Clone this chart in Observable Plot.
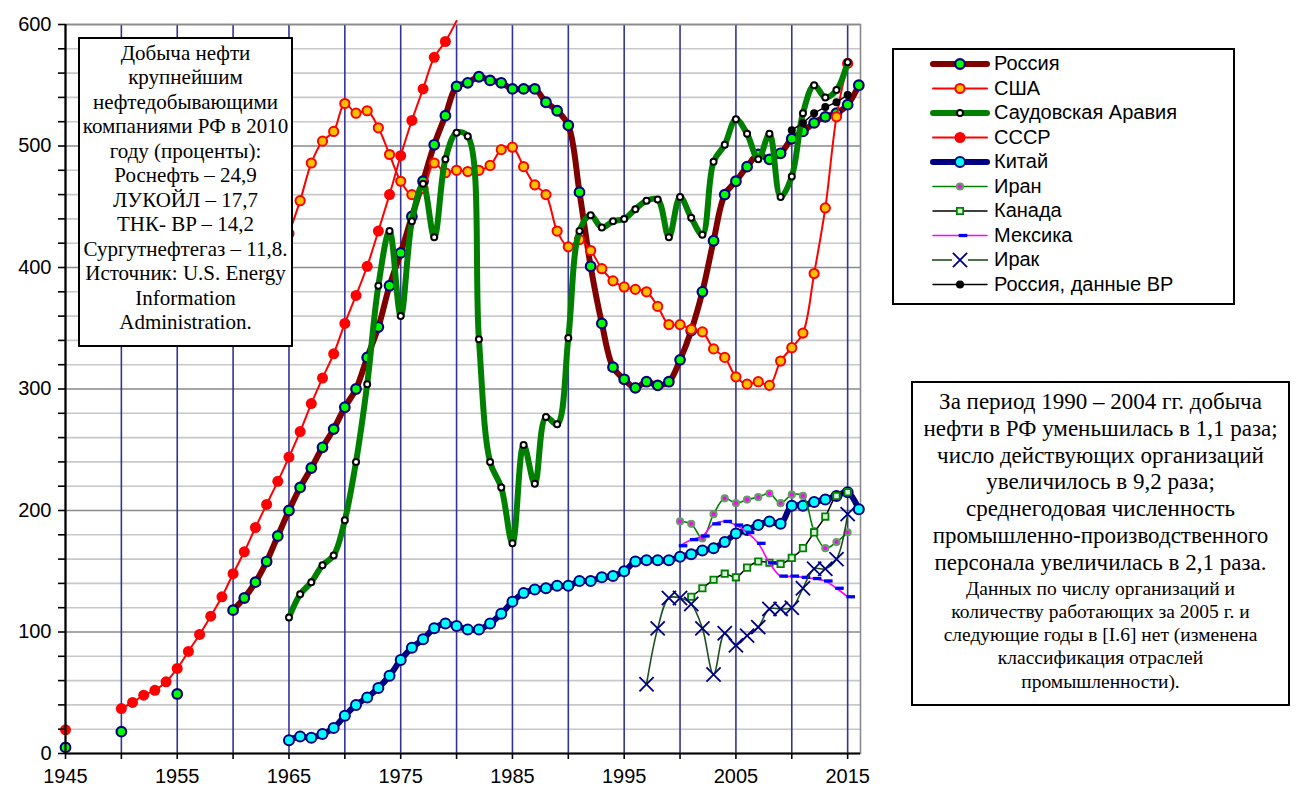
<!DOCTYPE html>
<html><head><meta charset="utf-8">
<script src="https://cdn.jsdelivr.net/npm/d3@7"></script>
<script src="https://cdn.jsdelivr.net/npm/@observablehq/plot@0.6"></script>
<style>
body{margin:0;background:#fff;}
#wrap{position:relative;width:1296px;height:788px;overflow:hidden;background:#fff;}
#chart{position:absolute;left:0;top:0;}
.box{position:absolute;background:#fff;border:2px solid #000;box-sizing:border-box;font-family:"Liberation Serif","Times New Roman",serif;color:#000;text-align:center;}
.box div{white-space:nowrap;}
#box1{left:78px;top:37px;width:215px;height:310px;padding-top:2px;font-size:21px;line-height:24.45px;}
#box2{left:911px;top:381px;width:379px;height:325px;padding-top:6px;}
#box2 .big{font-size:23px;line-height:26.8px;}
#box2 .small{font-size:19.5px;line-height:23.3px;}
#legend{position:absolute;left:0;top:0;}
</style></head>
<body><div id="wrap"><div id="chart"></div><svg id="legend" width="1296" height="788"></svg>
<div class="box" id="box1"></div>
<div class="box" id="box2"></div>
</div>
<script>
// ---------- data ----------
const russiaYears = [1945, 1950, 1955, ...d3.range(1960, 2017)];
const russiaVals = [5, 18, 49,
  118,128,141,158,179, 200,219,235,252,267, 285,300,326,351,385, 412,442,471,501,525,
  549,552,557,554,552, 547,547,547,536,529, 517,462,401,354,318, 308,301,306,303,306,
  324,348,380,422,460, 471,483,493,489,494, 506,512,519,524,527, 534,550];

const usaYears = d3.range(1965, 2016);
const usaVals = [428,455,486,504,512, 535,527,529,515,493, 471,460,465,486,478,
  480,479,480,484,497, 499,483,468,460,430, 417,423,414,399,389, 384,382,380,368,353,
  353,349,347,333,326, 310,304,306,303,323, 334,346,395,449,524, 568];

const saudiYears = d3.range(1965, 2016);
const saudiVals = [112,131,141,155,163, 192,240,304,385,430, 360,438,469,425,489,
  511,508,341,240,219, 173,254,222,277,271, 342,430,443,433,438, 440,448,455,456,425,
  458,441,427,487,501, 522,510,489,510,458, 475,527,550,540,546, 569];

const ussrYears = [1945, ...d3.range(1950, 1981)];
const ussrVals = [19.5, 37,42,48,52,59, 70,84,98,113,129, 148,166,186,205,224,
  244,265,288,309,329, 354,377,401,430,460, 492,521,547,573,586, 603];

const chinaYears = d3.range(1965, 2017);
const chinaVals = [11,14,13,16,21, 31,40,46,54,64, 77,87,94,103,107, 105,102,102,107,115,
  125,132,135,136,138, 138,142,142,145,146, 150,158,159,159,159, 162,164,167,169,174,
  181,184,188,191,189, 204,204,207,209,212, 215,201];

const iranYears = d3.range(2000, 2016);
const iranVals = [191,189,177,197,210, 206,209,211,214,206, 213,212,183,169,174, 182];

const canadaYears = d3.range(2001, 2016);
const canadaVals = [129,136,143,148,145, 153,158,157,156,161, 169,182,195,212,215];

const mexicoYears = d3.range(2000, 2016);
const mexicoVals = [171,176,179,189,191, 188,182,173,157,146, 146,145,144,142,136, 129];

const iraqYears = d3.range(1997, 2016);
const iraqVals = [57,103,128,128,123, 103,65,99,89,97, 104,119,119,120,136, 152,152,160,197];

const russiaBPYears = d3.range(2010, 2016);
const russiaBPVals = [513,519,527,532,536,542];

const seriesNames = ["Россия","США","Саудовская Аравия","СССР","Китай","Иран","Канада","Мексика","Ирак","Россия, данные BP"];
const xTickLabels = [1945,1955,1965,1975,1985,1995,2005,2015];
const yTickLabels = [0,100,200,300,400,500,600];

const box1Lines = ["Добыча нефти","крупнейшим","нефтедобывающими","компаниями РФ в 2010","году (проценты):","Роснефть – 24,9","ЛУКОЙЛ – 17,7","ТНК- BP – 14,2","Сургутнефтегаз – 11,8.","Источник: U.S. Energy","Information","Administration."];
const box2Big = ["За период 1990 – 2004 гг. добыча","нефти в РФ уменьшилась в 1,1 раза;","число действующих организаций","увеличилось в 9,2 раза;","среднегодовая численность","промышленно-производственного","персонала увеличилась в 2,1 раза."];
const box2Small = ["Данных по числу организаций и","количеству работающих за 2005 г. и","следующие годы в [I.6] нет (изменена","классификация отраслей","промышленности)."];

// ---------- helpers ----------
function rows(years, vals){
  const out=[];
  years.forEach((yr,i)=>{
    if(i>0 && yr-years[i-1]>1) out.push({year:(yr+years[i-1])/2, v:null});
    out.push({year:yr, v:vals[i]});
  });
  return out;
}
const dash = {draw(ctx, size){ const r=Math.sqrt(size/Math.PI); ctx.rect(-1.3*r,-0.5*r,2.6*r,r); }};

const S = [
  {d:rows(russiaYears,russiaVals), line:"#800000", lw:6, curve:"catmull-rom", sym:"circle", r:4.8, fill:"#00ff00", stroke:"#000080", sw:2.2},
  {d:rows(usaYears,usaVals), line:"#ff0000", lw:2, curve:"catmull-rom", sym:"circle", r:4.6, fill:"#ffc000", stroke:"#ff0000", sw:2},
  {d:rows(saudiYears,saudiVals), line:"#008000", lw:6, curve:"catmull-rom", sym:"circle", r:3, fill:"#ffffff", stroke:"#000000", sw:2},
  {d:rows(ussrYears,ussrVals), line:"#ff0000", lw:2, curve:"catmull-rom", sym:"circle", r:5.5, fill:"#ff0000", stroke:"none", sw:0, max:600},
  {d:rows(chinaYears,chinaVals), line:"#000080", lw:6, curve:"catmull-rom", sym:"circle", r:5, fill:"#00ffff", stroke:"#000080", sw:2},
  {d:rows(iranYears,iranVals), line:"#008000", lw:1.6, curve:"catmull-rom", sym:"circle", r:3, fill:"#ff00ff", stroke:"#6a9a6a", sw:2.2},
  {d:rows(canadaYears,canadaVals), line:"#000000", lw:1.5, curve:"catmull-rom", sym:"square", r:3.6, fill:"#d8f0d8", stroke:"#008000", sw:1.8},
  {d:rows(mexicoYears,mexicoVals), line:"#ff00ff", lw:1.6, curve:"catmull-rom", sym:dash, r:3.3, fill:"#0000ff", stroke:"none", sw:0, dx:3},
  {d:rows(iraqYears,iraqVals), line:"#1f4f1f", lw:1.6, curve:"catmull-rom", sym:"times", r:6.5, fill:"none", stroke:"#000080", sw:1.8},
  {d:rows(russiaBPYears,russiaBPVals), line:"#000000", lw:1.5, curve:"linear", sym:"circle", r:4, fill:"#000000", stroke:"none", sw:0}
];

const marks = [
  Plot.ruleY(d3.range(20, 600, 20).filter(v=>v%100), {stroke:"#c8c8c8", strokeWidth:1.6}),
  Plot.ruleY([100,200,300,400,500,600], {stroke:"#8a8a8a", strokeWidth:1.6}),
  Plot.ruleX(d3.range(1950, 2016, 5), {stroke:"#333399", strokeWidth:1.6}),
  Plot.frame({stroke:"#8a8a8a", strokeWidth:1.6})
];
S.forEach(s=>{
  marks.push(Plot.line(s.d, {x:"year", y:"v", stroke:s.line, strokeWidth:s.lw, curve:s.curve, strokeLinejoin:"round", strokeLinecap:"round"}));
  marks.push(Plot.dot(s.d.filter(p=>p.v!=null && (s.max==null || p.v<=s.max)), {x:"year", y:"v", r:s.r, symbol:s.sym, fill:s.fill, stroke:s.stroke, strokeWidth:s.sw, dx:s.dx||0}));
});
marks.push(
  Plot.axisX({ticks:d3.range(1945,2016,5), tickFormat:d=>xTickLabels.includes(d)?String(d):"", tickSize:6, tickPadding:9, fontSize:20, strokeWidth:1.6, label:null}),
  Plot.axisY({ticks:d3.range(0,601,20), tickFormat:d=>yTickLabels.includes(d)?String(d):"", tickSize:7, tickPadding:7, fontSize:20, strokeWidth:1.6, label:null}),
  Plot.ruleX([1945], {stroke:"#000", strokeWidth:2.2}),
  Plot.ruleY([0], {stroke:"#000", strokeWidth:2.2})
);

const chart = Plot.plot({
  width:1296, height:788,
  marginLeft:65, marginRight:436, marginTop:24, marginBottom:35,
  x:{domain:[1945, 2016.15]},
  y:{domain:[0,600]},
  style:{fontFamily:"'Liberation Sans', Arial, sans-serif", fontSize:"20px", background:"white", color:"black", overflow:"visible"},
  marks
});
document.getElementById("chart").appendChild(chart);

// ---------- legend ----------
const lg = d3.select("#legend");
const L = {x:893, y:49, w:341, h:255};
lg.append("rect").attr("x",L.x).attr("y",L.y).attr("width",L.w).attr("height",L.h).attr("fill","white").attr("stroke","black").attr("stroke-width",2);
S.forEach((s,i)=>{
  const cy = 64 + i*24.5;
  const g = lg.append("g");
  if (i===8){
    g.append("line").attr("x1",932).attr("x2",952).attr("y1",cy).attr("y2",cy).attr("stroke",s.line).attr("stroke-width",s.lw);
    g.append("line").attr("x1",968).attr("x2",988).attr("y1",cy).attr("y2",cy).attr("stroke",s.line).attr("stroke-width",s.lw);
  } else {
    g.append("line").attr("x1",933).attr("x2",987).attr("y1",cy).attr("y2",cy).attr("stroke",s.line).attr("stroke-width",s.lw).attr("stroke-linecap","round");
  }
  let symType = s.sym==="square"?d3.symbolSquare: s.sym==="times"?d3.symbolTimes: s.sym===dash?dash: d3.symbolCircle;
  g.append("path").attr("transform",`translate(${960+(s.dx||0)},${cy})`)
    .attr("d", d3.symbol(symType, Math.PI*s.r*s.r)())
    .attr("fill",s.fill).attr("stroke",s.stroke).attr("stroke-width",s.sw);
  g.append("text").attr("x",994).attr("y",cy+1).attr("dominant-baseline","middle")
    .attr("font-family","'Liberation Sans', Arial, sans-serif").attr("font-size",20).text(seriesNames[i]);
});

// ---------- text boxes ----------
const b1 = d3.select("#box1");
box1Lines.forEach(t=>b1.append("div").text(t));
const b2 = d3.select("#box2");
box2Big.forEach(t=>b2.append("div").attr("class","big").text(t));
box2Small.forEach(t=>b2.append("div").attr("class","small").text(t));
</script>
</body></html>
